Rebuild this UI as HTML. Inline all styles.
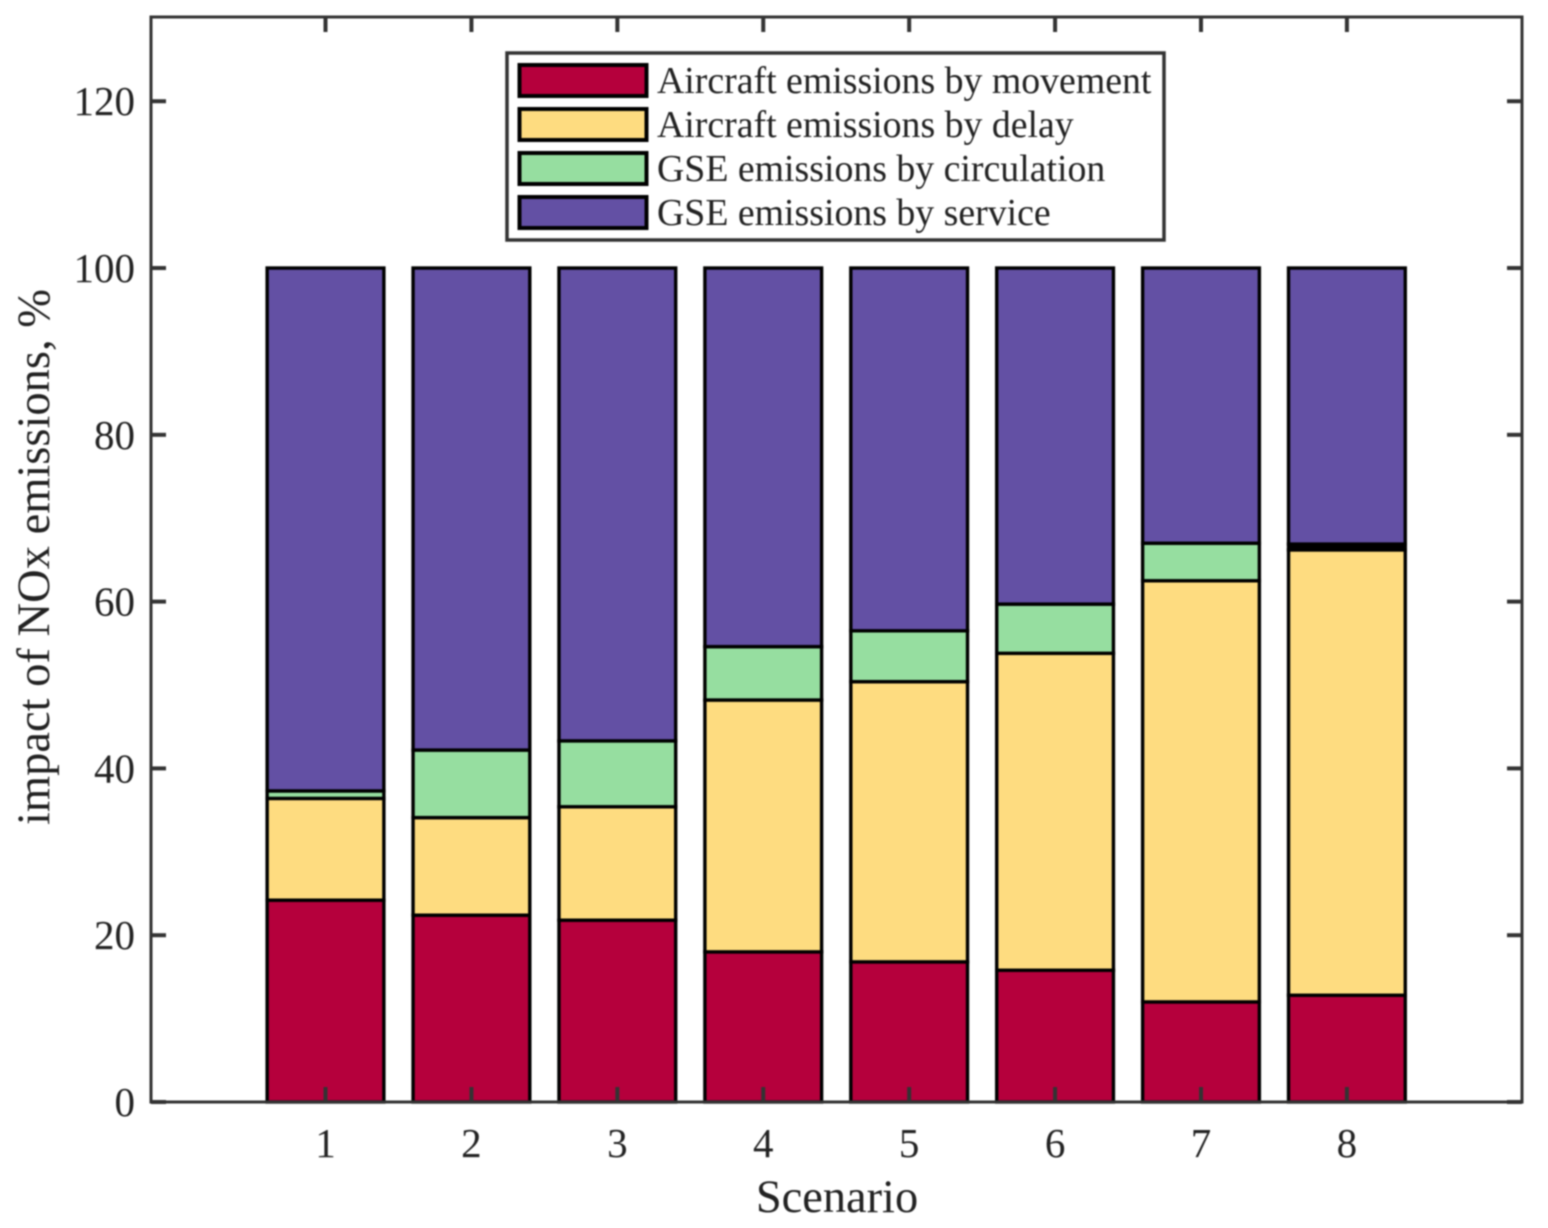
<!DOCTYPE html>
<html lang="en">
<head>
<meta charset="utf-8">
<title>Impact of NOx emissions by scenario</title>
<style>
  html, body { margin: 0; padding: 0; background: #fff; }
  body { width: 1548px; height: 1228px; overflow: hidden; }
  svg { display: block; filter: blur(0.7px); }
  text { font-family: "Liberation Serif", serif; fill: #222; }
</style>
</head>
<body>
<svg id="chart" xmlns="http://www.w3.org/2000/svg" width="1548" height="1228" viewBox="0 0 1548 1228">
  <g id="bars"></g>
  <g id="axes"></g>
  <text x="837" y="1212" font-size="46.4" text-anchor="middle">Scenario</text>
  <text transform="translate(49,557) rotate(-90)" font-size="46.5" text-anchor="middle">impact of NOx emissions, %</text>
  <g id="legend"></g>
</svg>
<script>
const categories = ['1', '2', '3', '4', '5', '6', '7', '8'];
const seriesNames = ['Aircraft emissions by movement', 'Aircraft emissions by delay', 'GSE emissions by circulation', 'GSE emissions by service'];
const aircraftMovement = [24.2, 22.4, 21.8, 18.0, 16.8, 15.8, 12.0, 12.8];
const aircraftDelay = [12.2, 11.7, 13.6, 30.2, 33.6, 38.0, 50.5, 53.4];
const gseCirculation = [0.9, 8.1, 7.9, 6.4, 6.1, 5.9, 4.5, 0.7];
const gseService = [62.7, 57.8, 56.7, 45.4, 43.5, 40.3, 33.0, 33.1];
const yTickLabels = [0, 20, 40, 60, 80, 100, 120];

const seriesValues = [aircraftMovement, aircraftDelay, gseCirculation, gseService];
const seriesColors = ['#b5003c', '#fedc80', '#96dea0', '#6350a4'];
const seriesKeys = ['movement', 'delay', 'circulation', 'service'];
const NS = 'http://www.w3.org/2000/svg';
const plot = { left: 151, right: 1522, top: 17, bottom: 1102 };
const xMin = -0.196, xMax = 9.2, yMin = 0, yMax = 130.1, barWidth = 0.8;

function xScale(v) { return plot.left + (v - xMin) / (xMax - xMin) * (plot.right - plot.left); }
function yScale(v) { return plot.bottom - (v - yMin) / (yMax - yMin) * (plot.bottom - plot.top); }
function make(parent, tag, attrs) {
  const el = document.createElementNS(NS, tag);
  for (const k in attrs) el.setAttribute(k, attrs[k]);
  parent.appendChild(el);
  return el;
}

const barsG = document.getElementById('bars');
categories.forEach(function (cat, i) {
  let base = 0;
  const cx = xScale(i + 1);
  const w = xScale(barWidth) - xScale(0);
  seriesValues.forEach(function (vals, s) {
    const top = base + vals[i];
    const h = yScale(base) - yScale(top);
    const r = make(barsG, 'rect', {
      x: cx - w / 2, y: yScale(top), width: w, height: h,
      fill: h < 7 ? '#000' : seriesColors[s], stroke: '#000', 'stroke-width': 3.4
    });
    
    
    base = top;
  });
});

const axesG = document.getElementById('axes');
const frame = make(axesG, 'rect', {
  x: plot.left, y: plot.top, width: plot.right - plot.left, height: plot.bottom - plot.top,
  fill: 'none', stroke: '#333', 'stroke-width': 3
});



const tickLen = 15;
yTickLabels.forEach(function (v) {
  const y = yScale(v);
  const t1 = make(axesG, 'line', { x1: plot.left, x2: plot.left + tickLen, y1: y, y2: y, stroke: '#333', 'stroke-width': 4 });
  
  
  const t2 = make(axesG, 'line', { x1: plot.right, x2: plot.right - tickLen, y1: y, y2: y, stroke: '#333', 'stroke-width': 4 });
  
  
  const lab = make(axesG, 'text', { x: 135, y: y + 14, 'font-size': 41, 'text-anchor': 'end' });
  lab.textContent = String(v);
  
  
});
categories.forEach(function (cat, i) {
  const x = xScale(i + 1);
  const t1 = make(axesG, 'line', { x1: x, x2: x, y1: plot.bottom, y2: plot.bottom - tickLen, stroke: '#333', 'stroke-width': 4 });
  
  
  const t2 = make(axesG, 'line', { x1: x, x2: x, y1: plot.top, y2: plot.top + tickLen, stroke: '#333', 'stroke-width': 4 });
  
  
  const lab = make(axesG, 'text', { x: x, y: 1157, 'font-size': 41, 'text-anchor': 'middle' });
  lab.textContent = cat;
  
  
});

const legendG = document.getElementById('legend');
const box = make(legendG, 'rect', { x: 507, y: 53, width: 657, height: 187, fill: '#fff', stroke: '#333', 'stroke-width': 3.5 });


seriesNames.forEach(function (name, s) {
  const rowTop = 65 + s * 44;
  const sw = make(legendG, 'rect', { x: 519.5, y: rowTop, width: 127, height: 31, fill: seriesColors[s], stroke: '#000', 'stroke-width': 4 });
  
  
  const t = make(legendG, 'text', { x: 657, y: rowTop + 28, 'font-size': 37.8 });
  t.textContent = name;
  
  
});
</script>
</body>
</html>
